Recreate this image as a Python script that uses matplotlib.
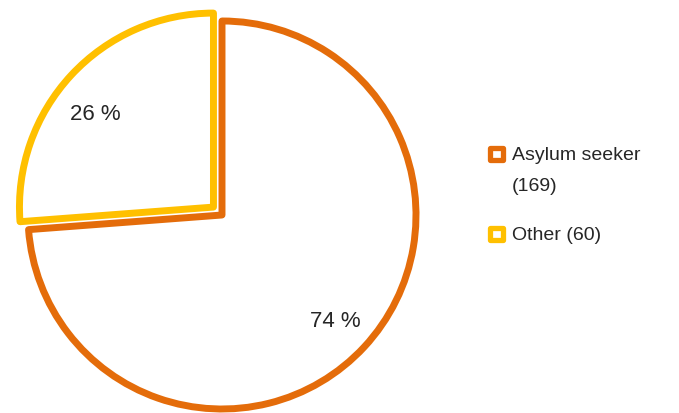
import matplotlib
matplotlib.use('Agg')
import matplotlib.pyplot as plt
from matplotlib.patches import Rectangle

plt.rcParams['font.family'] = ['Liberation Sans', 'DejaVu Sans']

# Data
labels = ["Asylum seeker\n(169)", "Other (60)"]
counts = [169, 60]
colors = ["#E46C0A", "#FFC000"]
explode = [0, 0.06]

W, H = 679, 414
fig = plt.figure(figsize=(W / 100, H / 100), dpi=100)
# pie radius 1 -> ~194 px, centre at (222, 198) px from bottom-left
r_px = 194
ax = fig.add_axes([(222 - 1.1 * r_px) / W, (198 - 1.1 * r_px) / H,
                   2.2 * r_px / W, 2.2 * r_px / H])

wedges, texts, autotexts = ax.pie(
    counts, colors=colors, explode=explode, startangle=90, counterclock=False,
    autopct=lambda p: f"{p:.0f} %", pctdistance=0.8,
    wedgeprops=dict(facecolor='white', linewidth=5, joinstyle='round'),
    textprops=dict(fontsize=16, color='#262626'))
for w, c in zip(wedges, colors):
    w.set_edgecolor(c)
    w.set_clip_on(False)
# the small slice's label sits a little lower in the original
x, y = autotexts[1].get_position()
autotexts[1].set_position((x - 0.02, y - 0.06))
ax.set_xlim(-1.1, 1.1)
ax.set_ylim(-1.1, 1.1)
ax.set_aspect('equal')
ax.axis('off')

# legend drawn by hand so the marker sits on the first text line
leg_y = [155, 235]   # pixel rows (from top) of first text line centre
for lab, c, y in zip(labels, colors, leg_y):
    s = 12.5
    fig.patches.append(Rectangle(((496.5 - s / 2) / W, (H - y - s / 2) / H), s / W, s / H,
                                 transform=fig.transFigure, facecolor='white',
                                 edgecolor=c, linewidth=3.8, joinstyle='round'))
    fig.text(512 / W, (H - y + 8) / H, lab, fontsize=14, color='#262626',
             va='top', ha='left', linespacing=2.05,
             transform=fig.transFigure)

plt.savefig("out.png", dpi=100)
plt.close()
